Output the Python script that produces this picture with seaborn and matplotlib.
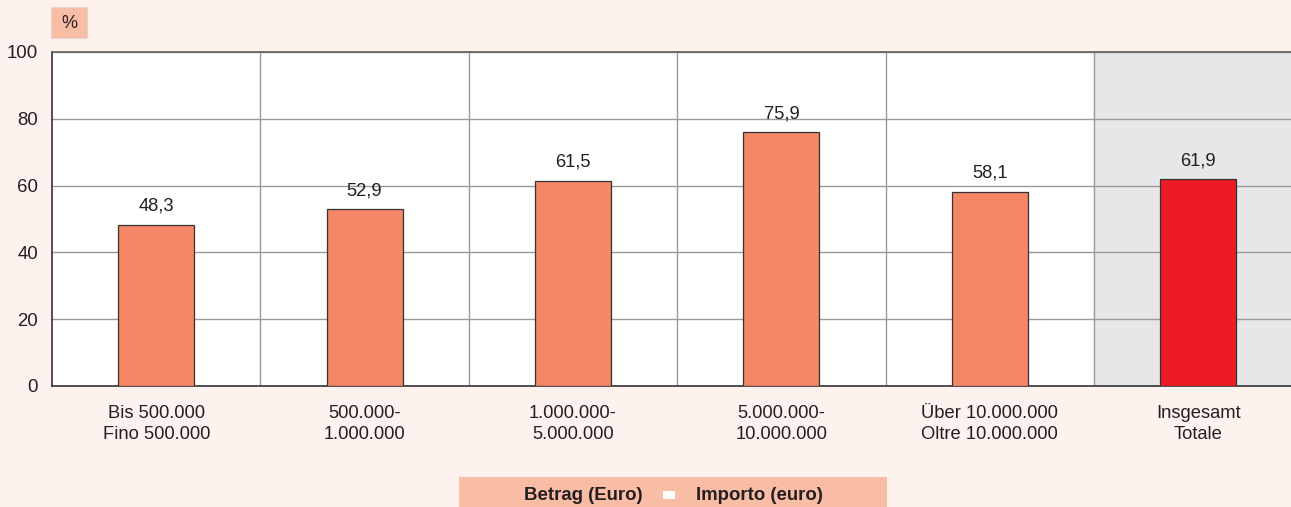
import matplotlib
matplotlib.use("Agg")
import matplotlib.pyplot as plt
import seaborn as sns
import pandas as pd
from matplotlib.patches import Rectangle

# chart data
categories = ["Bis 500.000\nFino 500.000", "500.000-\n1.000.000", "1.000.000-\n5.000.000",
              "5.000.000-\n10.000.000", "Über 10.000.000\nOltre 10.000.000", "Insgesamt\nTotale"]
values = [48.3, 52.9, 61.5, 75.9, 58.1, 61.9]
value_labels = ["48,3", "52,9", "61,5", "75,9", "58,1", "61,9"]
yticks = [0, 20, 40, 60, 80, 100]
legend_left = "Betrag (Euro)"
legend_right = "Importo (euro)"

bg = "#fdf2ee"
bar_col = "#f48766"
total_col = "#ed1c24"
box_col = "#f9bca5"
txt = "#231f20"

sns.set_theme(style="white")
plt.rcParams['font.family'] = ['Liberation Sans', 'DejaVu Sans']

fig = plt.figure(figsize=(12.91, 5.07), dpi=100, facecolor=bg)
ax = fig.add_axes([52 / 1291, 1 - 386 / 507, 1 - 52 / 1291, (386 - 52) / 507])
ax.set_facecolor("white")

df = pd.DataFrame({"cat": categories, "val": values})
palette = [bar_col] * (len(categories) - 1) + [total_col]
sns.barplot(data=df, x="cat", y="val", hue="cat", palette=palette, legend=False,
            saturation=1, width=0.365, edgecolor="#333333", linewidth=0.9, ax=ax, zorder=3)

n = len(categories)
ax.set_xlim(-0.5, n - 0.555)
ax.set_ylim(0, 100)

# grey band behind the total column
ax.axvspan(n - 1.5, n + 0.5, color="#e6e7e8", zorder=0)

for y in yticks[1:]:
    ax.axhline(y, color="#9a9a9a", linewidth=1.0, zorder=1)
for i in range(n - 1):
    ax.axvline(i + 0.5, color="#9a9a9a", linewidth=1.0, zorder=1)

for i, (v, lab) in enumerate(zip(values, value_labels)):
    ax.text(i, v + 3.0, lab, ha="center", va="bottom", fontsize=13.2, color=txt)

ax.set_yticks(yticks)
ax.set_yticklabels([str(t) for t in yticks], fontsize=13.4, color=txt)
ax.tick_params(axis="x", labelsize=13.2, labelcolor=txt, pad=14, length=0)
ax.tick_params(axis="y", length=0, pad=10)
for lab in ax.get_xticklabels():
    lab.set_linespacing(1.25)
ax.set_xlabel("")
ax.set_ylabel("")

for side in ["top", "right"]:
    ax.spines[side].set_visible(False)
ax.spines["left"].set_color("#333333")
ax.spines["bottom"].set_color("#333333")
ax.spines["left"].set_linewidth(1.2)
ax.spines["bottom"].set_linewidth(1.2)
ax.axhline(100, color="#666666", linewidth=1.3, zorder=4, clip_on=False)

# "%" unit box
fig.patches.append(Rectangle((51 / 1291, 1 - 38 / 507), 36 / 1291, 31 / 507,
                             transform=fig.transFigure, facecolor=box_col,
                             edgecolor="#e8d4cc", linewidth=0.8))
fig.text(69 / 1291, 1 - 23 / 507, "%", ha="center", va="center", fontsize=13, color=txt)

# legend strip
fig.patches.append(Rectangle((459 / 1291, 0), 428 / 1291, 30 / 507,
                             transform=fig.transFigure, facecolor=box_col, edgecolor="none"))
fig.text(643 / 1291, 1 - 495 / 507, legend_left, ha="right", va="center",
         fontsize=13.4, fontweight="bold", color=txt)
fig.patches.append(Rectangle((663 / 1291, 1 - 499 / 507), 12 / 1291, 8 / 507,
                             transform=fig.transFigure, facecolor="white", edgecolor="none"))
fig.text(696 / 1291, 1 - 495 / 507, legend_right, ha="left", va="center",
         fontsize=13.4, fontweight="bold", color=txt)

fig.savefig("out.png", dpi=100, facecolor=bg)
